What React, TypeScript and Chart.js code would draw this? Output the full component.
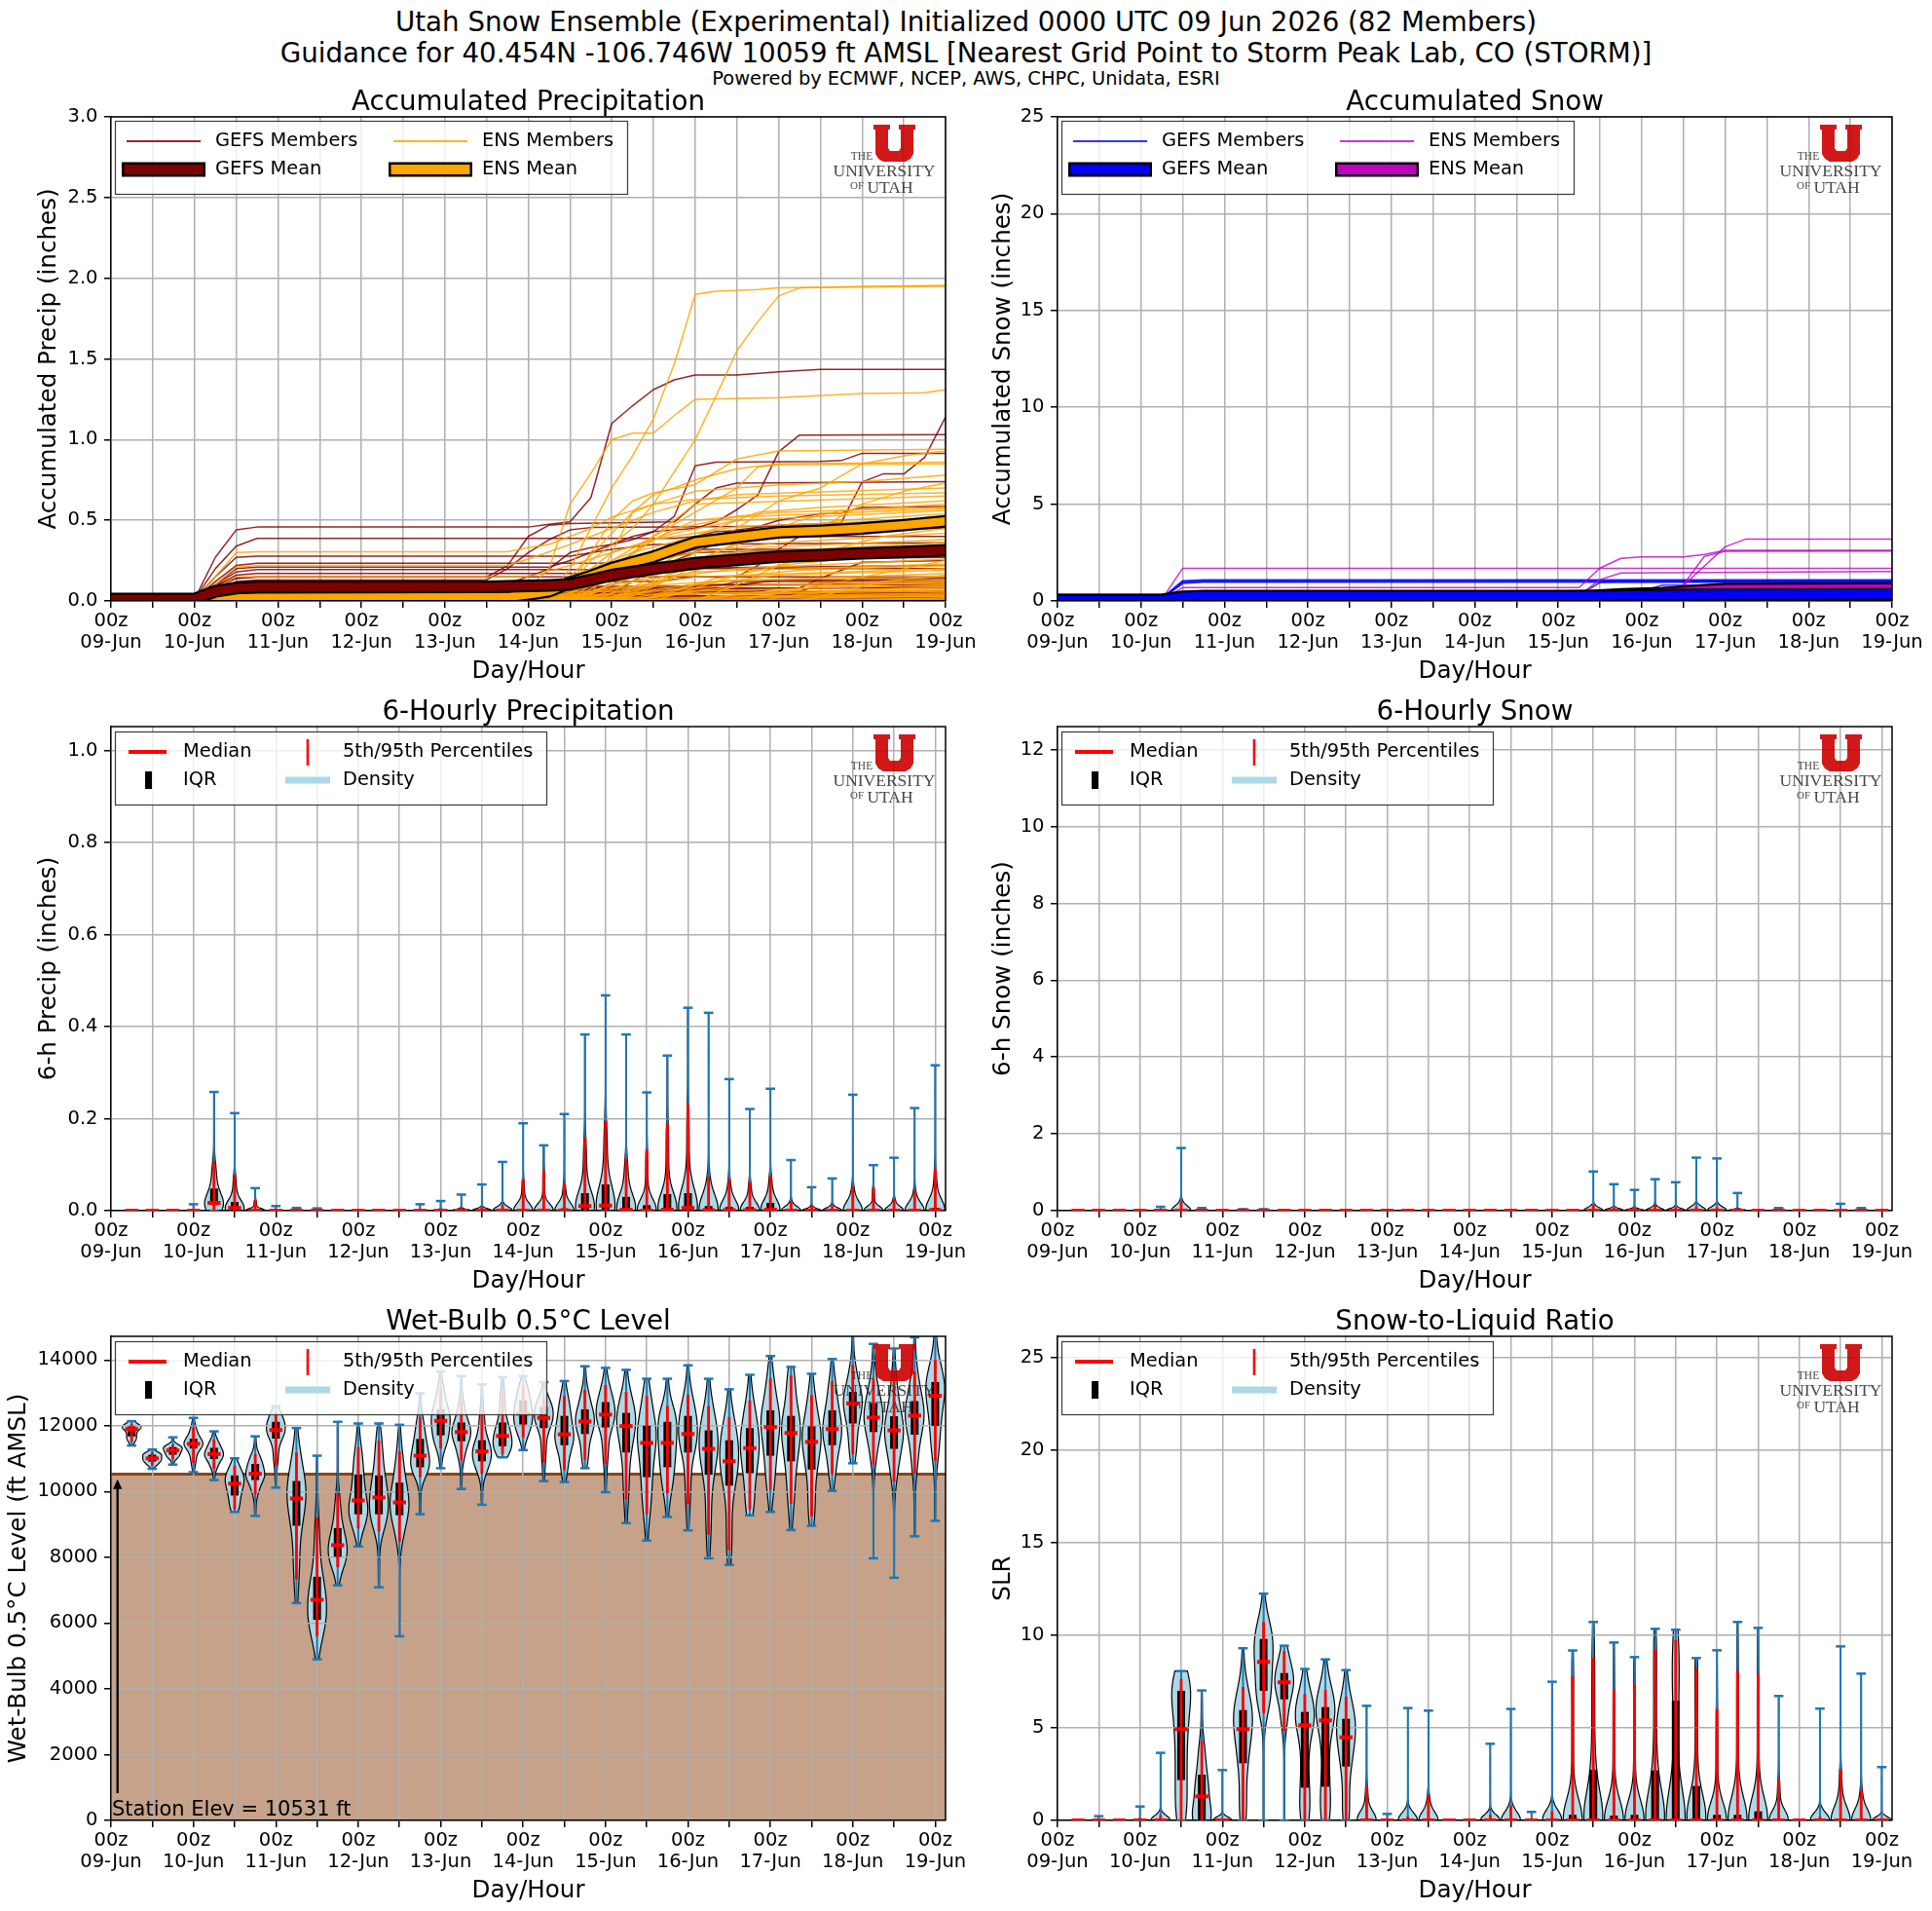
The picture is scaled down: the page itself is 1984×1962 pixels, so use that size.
import React, { useEffect, useRef } from 'react';
import { Chart, registerables } from 'chart.js';

Chart.register(...registerables);

// ---------- fonts & text ----------
const SANS = "'DejaVu Sans', 'Liberation Sans', sans-serif";
const SERIF = "'Liberation Serif', 'DejaVu Serif', serif";
const TICK_PX = 19.5;
const LEGEND_PX = 19.4;
const AXIS_TITLE_PX = 24.6;
const PANEL_TITLE_PX = 27.7;

const SUPTITLE_LINES = [
  'Utah Snow Ensemble (Experimental) Initialized 0000 UTC 09 Jun 2026 (82 Members)',
  'Guidance for 40.454N -106.746W 10059 ft AMSL [Nearest Grid Point to Storm Peak Lab, CO (STORM)]',
];
const CREDIT_LINE = 'Powered by ECMWF, NCEP, AWS, CHPC, Unidata, ESRI';
const X_AXIS_TITLE = 'Day/Hour';

// ---------- time axis ----------
const DAY_LABELS = ['09-Jun', '10-Jun', '11-Jun', '12-Jun', '13-Jun', '14-Jun', '15-Jun', '16-Jun', '17-Jun', '18-Jun', '19-Jun'];
const HOUR_LABEL = '00z';
const FORECAST_END_H = 240;
const VIOLIN_AXIS_END_H = 243;
const VIOLIN_HOURS = [6, 12, 18, 24, 30, 36, 42, 48, 54, 60, 66, 72, 78, 84, 90, 96, 102, 108, 114, 120,
  126, 132, 138, 144, 150, 156, 162, 168, 174, 180, 186, 192, 198, 204, 210, 216, 222, 228, 234, 240];
const VIOLIN_WIDTH_H = 5.5;

// ---------- y tick values ----------
const ACC_PRECIP_TICKS = [0, 0.5, 1.0, 1.5, 2.0, 2.5, 3.0];
const ACC_SNOW_TICKS = [0, 5, 10, 15, 20, 25];
const PRECIP_6H_TICKS = [0, 0.2, 0.4, 0.6, 0.8, 1.0];
const SNOW_6H_TICKS = [0, 2, 4, 6, 8, 10, 12];
const WETBULB_TICKS = [0, 2000, 4000, 6000, 8000, 10000, 12000, 14000];
const SLR_TICKS = [0, 5, 10, 15, 20, 25];

const STATION_ELEV_FT = 10531;
const ELEV_ARROW_FT = [830, 10370];
const ELEV_ARROW_HOUR = 1.9;

// ---------- colours ----------
const GEFS_PRECIP_MEMBER = 'rgba(128,0,0,0.85)';
const ENS_PRECIP_MEMBER = 'rgba(255,165,0,0.85)';
const GEFS_PRECIP_MEAN = '#800000';
const ENS_PRECIP_MEAN = '#ffa500';
const GEFS_SNOW_MEMBER = 'rgba(0,0,255,0.8)';
const ENS_SNOW_MEMBER = 'rgba(191,0,191,0.8)';
const GEFS_SNOW_MEAN = '#0000ff';
const ENS_SNOW_MEAN = '#bf00bf';
const WHISKER_BLUE = '#1f77b4';
const DENSITY_BLUE = '#add8e6';

// ---------- accumulated precipitation members: [hour, inches] ----------
const GEFS_PRECIP_MEMBERS = [
  [[0, 0.01], [24, 0.01], [30, 0.27], [36, 0.44], [42, 0.458], [120, 0.458], [126, 0.475], [132, 0.49], [138, 0.64], [144, 1.1], [150, 1.21], [156, 1.31], [162, 1.37], [168, 1.4], [180, 1.4], [192, 1.42], [204, 1.435], [240, 1.435]],
  [[0, 0.01], [24, 0.01], [30, 0.2], [36, 0.34], [42, 0.388], [162, 0.388], [168, 0.4], [174, 0.43], [186, 0.44], [240, 0.45]],
  [[0, 0.01], [24, 0.01], [30, 0.06], [36, 0.1], [42, 0.11], [114, 0.11], [120, 0.15], [126, 0.2], [132, 0.3], [138, 0.33], [144, 0.35], [150, 0.4], [156, 0.43], [162, 0.44], [168, 0.45], [174, 0.49], [180, 0.566], [186, 0.656], [192, 0.924], [198, 1.028], [240, 1.03]],
  [[0, 0.01], [24, 0.01], [30, 0.1], [36, 0.2], [42, 0.21], [126, 0.21], [132, 0.25], [138, 0.3], [144, 0.35], [150, 0.38], [156, 0.43], [162, 0.525], [168, 0.837], [174, 0.86], [204, 0.865], [210, 0.87], [216, 0.915], [240, 0.915]],
  [[0, 0.01], [24, 0.01], [30, 0.05], [36, 0.07], [120, 0.07], [132, 0.1], [144, 0.2], [156, 0.3], [168, 0.38], [180, 0.44], [192, 0.47], [210, 0.485], [216, 0.737], [222, 0.787], [228, 0.787], [234, 0.89], [240, 1.14]],
  [[0, 0.01], [24, 0.01], [30, 0.03], [36, 0.05], [132, 0.05], [144, 0.1], [156, 0.2], [168, 0.3], [180, 0.42], [192, 0.5], [204, 0.54], [210, 0.545], [216, 0.58], [240, 0.585]],
  [[0, 0.01], [24, 0.01], [30, 0.05], [36, 0.12], [42, 0.13], [108, 0.13], [114, 0.2], [120, 0.3], [126, 0.38], [132, 0.44], [138, 0.455], [240, 0.47]],
  [[0, 0.01], [24, 0.01], [30, 0.1], [36, 0.14], [42, 0.148], [108, 0.148], [114, 0.218], [120, 0.4], [126, 0.47], [132, 0.48], [162, 0.49], [168, 0.6], [174, 0.7], [180, 0.73], [240, 0.74]],
  [[0, 0.01], [24, 0.01], [30, 0.15], [36, 0.27], [42, 0.278], [132, 0.278], [144, 0.32], [156, 0.35], [240, 0.36]],
  [[0, 0.01], [24, 0.01], [30, 0.12], [36, 0.22], [42, 0.234], [150, 0.234], [162, 0.28], [168, 0.3], [240, 0.33]],
  [[0, 0.01], [24, 0.01], [30, 0.1], [36, 0.18], [42, 0.194], [168, 0.194], [180, 0.26], [240, 0.27]],
  [[0, 0.01], [24, 0.01], [30, 0.09], [36, 0.16], [42, 0.17], [138, 0.17], [150, 0.2], [240, 0.22]],
  [[0, 0.01], [24, 0.01], [30, 0.08], [36, 0.14], [42, 0.15], [180, 0.15], [186, 0.22], [192, 0.32], [198, 0.4], [240, 0.4]],
  [[0, 0.01], [24, 0.01], [30, 0.06], [36, 0.11], [42, 0.12], [156, 0.12], [168, 0.15], [240, 0.15]],
  [[0, 0.01], [24, 0.01], [30, 0.05], [36, 0.09], [42, 0.1], [138, 0.1], [144, 0.16], [156, 0.25], [168, 0.32], [240, 0.32]],
  [[0, 0.01], [24, 0.01], [30, 0.05], [36, 0.08], [42, 0.09], [174, 0.09], [180, 0.12], [240, 0.12]],
  [[0, 0.01], [24, 0.01], [30, 0.04], [36, 0.07], [42, 0.08], [198, 0.08], [204, 0.14], [216, 0.24], [240, 0.25]],
  [[0, 0.01], [24, 0.01], [30, 0.04], [36, 0.06], [42, 0.07], [162, 0.07], [174, 0.1], [240, 0.1]],
  [[0, 0.01], [24, 0.01], [30, 0.03], [36, 0.05], [42, 0.06], [186, 0.06], [192, 0.08], [240, 0.08]],
  [[0, 0.01], [24, 0.01], [30, 0.03], [36, 0.045], [42, 0.05], [144, 0.05], [150, 0.12], [156, 0.2], [240, 0.2]],
  [[0, 0.01], [24, 0.01], [30, 0.03], [36, 0.045], [42, 0.05], [240, 0.06]],
  [[0, 0.01], [24, 0.01], [30, 0.02], [36, 0.035], [42, 0.04], [168, 0.04], [180, 0.1], [192, 0.13], [240, 0.13]],
  [[0, 0.01], [24, 0.01], [30, 0.02], [36, 0.035], [42, 0.04], [240, 0.05]],
  [[0, 0.01], [24, 0.01], [30, 0.02], [36, 0.03], [204, 0.03], [210, 0.05], [240, 0.05]],
  [[0, 0.01], [24, 0.01], [36, 0.03], [240, 0.03]],
  [[0, 0.01], [24, 0.01], [36, 0.02], [150, 0.02], [162, 0.07], [240, 0.09]],
  [[0, 0.01], [24, 0.01], [36, 0.02], [240, 0.02]],
  [[0, 0.01], [24, 0.01], [36, 0.02], [192, 0.02], [204, 0.1], [216, 0.14], [240, 0.14]],
  [[0, 0.01], [24, 0.01], [36, 0.01], [180, 0.01], [192, 0.04], [240, 0.04]],
  [[0, 0.01], [24, 0.01], [36, 0.01], [138, 0.01], [150, 0.06], [168, 0.1], [240, 0.11]],
  [[0, 0.01], [240, 0.01]],
];

const ENS_PRECIP_MEMBERS = [
  [[0, 0], [24, 0], [30, 0.01], [120, 0.01], [126, 0.05], [132, 0.2], [138, 0.45], [144, 0.7], [150, 0.9], [156, 1.13], [162, 1.47], [168, 1.9], [174, 1.92], [186, 1.93], [192, 1.94], [240, 1.95]],
  [[0, 0], [24, 0], [30, 0.02], [120, 0.02], [132, 0.1], [138, 0.25], [144, 0.35], [150, 0.45], [156, 0.6], [162, 0.8], [168, 1.0], [174, 1.27], [180, 1.55], [186, 1.73], [192, 1.89], [198, 1.94], [216, 1.95], [240, 1.955]],
  [[0, 0], [24, 0], [36, 0.03], [114, 0.03], [120, 0.08], [126, 0.2], [132, 0.6], [138, 0.79], [144, 1.0], [150, 1.04], [156, 1.04], [162, 1.15], [168, 1.25], [192, 1.26], [216, 1.285], [234, 1.29], [240, 1.31]],
  [[0, 0], [24, 0], [36, 0.02], [126, 0.03], [132, 0.1], [138, 0.3], [144, 0.5], [150, 0.62], [156, 0.67], [168, 0.72], [180, 0.88], [192, 0.93], [240, 0.94]],
  [[0, 0], [36, 0.01], [144, 0.02], [156, 0.15], [168, 0.3], [180, 0.45], [192, 0.62], [204, 0.7], [216, 0.85], [228, 0.9], [240, 0.93]],
  [[0, 0], [24, 0], [36, 0.02], [138, 0.03], [144, 0.3], [150, 0.55], [156, 0.66], [162, 0.7], [168, 0.75], [180, 0.82], [192, 0.85], [240, 0.86]],
  [[0, 0], [132, 0.01], [138, 0.1], [144, 0.25], [156, 0.4], [168, 0.55], [180, 0.7], [186, 0.83], [192, 0.845], [240, 0.85]],
  [[0, 0], [24, 0], [36, 0.05], [120, 0.05], [132, 0.15], [144, 0.42], [150, 0.55], [156, 0.6], [168, 0.68], [192, 0.72], [216, 0.74], [240, 0.78]],
  [[0, 0], [132, 0], [144, 0.05], [156, 0.2], [168, 0.35], [180, 0.4], [204, 0.45], [216, 0.6], [228, 0.68], [240, 0.73]],
  [[0, 0], [24, 0], [30, 0.1], [36, 0.21], [42, 0.22], [114, 0.22], [120, 0.26], [132, 0.35], [144, 0.45], [156, 0.55], [168, 0.62], [180, 0.66], [240, 0.7]],
  [[0, 0], [24, 0], [30, 0.15], [36, 0.3], [42, 0.305], [114, 0.305], [120, 0.33], [126, 0.35], [138, 0.45], [144, 0.52], [156, 0.6], [168, 0.63], [192, 0.65], [240, 0.67]],
  [[0, 0], [126, 0], [138, 0.1], [150, 0.3], [162, 0.5], [168, 0.6], [240, 0.65]],
  [[0, 0], [24, 0], [36, 0.03], [138, 0.04], [150, 0.2], [162, 0.35], [174, 0.45], [186, 0.55], [204, 0.58], [240, 0.62]],
  [[0, 0], [36, 0.01], [126, 0.01], [132, 0.05], [144, 0.2], [156, 0.38], [168, 0.5], [192, 0.55], [240, 0.58]],
  [[0, 0], [24, 0], [30, 0.08], [36, 0.15], [120, 0.15], [132, 0.22], [144, 0.3], [162, 0.42], [180, 0.5], [240, 0.56]],
  [[0, 0], [144, 0], [156, 0.1], [168, 0.25], [180, 0.35], [198, 0.5], [210, 0.56], [240, 0.6]],
  [[0, 0], [132, 0], [144, 0.15], [150, 0.3], [162, 0.45], [180, 0.52], [240, 0.57]],
  [[0, 0], [36, 0.02], [150, 0.03], [162, 0.15], [174, 0.3], [186, 0.42], [210, 0.5], [240, 0.54]],
  [[0, 0], [36, 0.01], [132, 0.02], [138, 0.2], [144, 0.3], [156, 0.38], [180, 0.46], [240, 0.51]],
  [[0, 0], [24, 0], [36, 0.1], [126, 0.1], [138, 0.2], [150, 0.3], [168, 0.4], [192, 0.45], [240, 0.48]],
  [[0, 0], [168, 0], [180, 0.1], [192, 0.22], [204, 0.3], [222, 0.4], [240, 0.45]],
  [[0, 0], [24, 0], [36, 0.08], [132, 0.08], [144, 0.15], [156, 0.25], [168, 0.3], [192, 0.36], [240, 0.42]],
  [[0, 0], [144, 0.01], [156, 0.12], [168, 0.25], [186, 0.33], [240, 0.38]],
  [[0, 0], [36, 0.04], [138, 0.05], [150, 0.15], [162, 0.25], [180, 0.3], [240, 0.36]],
  [[0, 0], [132, 0], [144, 0.1], [156, 0.2], [174, 0.28], [204, 0.32], [240, 0.34]],
  [[0, 0], [36, 0.05], [150, 0.06], [162, 0.15], [174, 0.22], [198, 0.28], [240, 0.32]],
  [[0, 0], [156, 0], [168, 0.08], [180, 0.16], [192, 0.22], [216, 0.27], [240, 0.3]],
  [[0, 0], [36, 0.01], [138, 0.02], [150, 0.12], [162, 0.2], [186, 0.25], [240, 0.28]],
  [[0, 0], [144, 0], [150, 0.08], [162, 0.15], [180, 0.2], [240, 0.26]],
  [[0, 0], [180, 0], [192, 0.05], [210, 0.12], [228, 0.2], [240, 0.25]],
  [[0, 0], [36, 0.02], [132, 0.02], [144, 0.1], [168, 0.18], [240, 0.23]],
  [[0, 0], [150, 0], [162, 0.06], [174, 0.14], [198, 0.19], [240, 0.22]],
  [[0, 0], [138, 0], [150, 0.09], [168, 0.15], [240, 0.2]],
  [[0, 0], [36, 0.03], [156, 0.04], [168, 0.1], [192, 0.16], [240, 0.19]],
  [[0, 0], [144, 0], [156, 0.07], [174, 0.12], [240, 0.17]],
  [[0, 0], [198, 0], [210, 0.06], [222, 0.12], [240, 0.16]],
  [[0, 0], [36, 0.01], [132, 0.01], [144, 0.08], [180, 0.13], [240, 0.15]],
  [[0, 0], [150, 0], [162, 0.05], [186, 0.1], [240, 0.13]],
  [[0, 0], [168, 0], [180, 0.04], [204, 0.09], [240, 0.12]],
  [[0, 0], [138, 0], [150, 0.05], [174, 0.09], [240, 0.11]],
  [[0, 0], [36, 0.02], [156, 0.02], [168, 0.06], [240, 0.1]],
  [[0, 0], [186, 0], [198, 0.04], [216, 0.07], [240, 0.09]],
  [[0, 0], [144, 0], [156, 0.04], [240, 0.08]],
  [[0, 0], [162, 0], [174, 0.03], [210, 0.06], [240, 0.07]],
  [[0, 0], [36, 0.01], [150, 0.01], [162, 0.04], [240, 0.06]],
  [[0, 0], [174, 0], [186, 0.03], [240, 0.05]],
  [[0, 0], [150, 0], [162, 0.02], [240, 0.04]],
  [[0, 0], [192, 0], [204, 0.02], [240, 0.03]],
  [[0, 0], [36, 0.01], [168, 0.01], [180, 0.02], [240, 0.03]],
  [[0, 0], [210, 0], [222, 0.01], [240, 0.02]],
  [[0, 0], [240, 0.01]],
];

const GEFS_PRECIP_MEAN_LINE = [[0, 0.012], [24, 0.012], [30, 0.06], [36, 0.08], [42, 0.087], [96, 0.087], [108, 0.088], [120, 0.093], [126, 0.097], [132, 0.103], [138, 0.13], [144, 0.16], [150, 0.18], [156, 0.2], [162, 0.215], [168, 0.234], [180, 0.255], [192, 0.274], [204, 0.283], [216, 0.295], [228, 0.303], [240, 0.314]];
const ENS_PRECIP_MEAN_LINE = [[0, 0.004], [24, 0.004], [30, 0.01], [36, 0.016], [42, 0.02], [108, 0.022], [114, 0.025], [120, 0.04], [126, 0.06], [132, 0.113], [138, 0.155], [144, 0.203], [150, 0.24], [156, 0.274], [162, 0.32], [168, 0.364], [180, 0.395], [192, 0.425], [204, 0.435], [216, 0.45], [228, 0.47], [240, 0.493]];

// ---------- accumulated snow members: [hour, inches] ----------
const GEFS_SNOW_MEMBERS = [
  [[0, 0.15], [30, 0.15], [36, 1.05], [42, 1.1], [240, 1.1]],
  [[0, 0.15], [30, 0.15], [36, 1.0], [42, 1.05], [240, 1.06]],
  [[0, 0.12], [30, 0.12], [36, 0.95], [42, 1.0], [240, 1.02]],
  [[0, 0.12], [30, 0.12], [36, 0.9], [42, 0.97], [156, 0.97], [162, 1.0], [240, 1.0]],
  [[0, 0.1], [30, 0.1], [36, 0.2], [162, 0.2], [168, 0.5], [174, 0.82], [240, 0.82]],
  [[0, 0.1], [30, 0.1], [36, 0.15], [174, 0.15], [180, 0.6], [186, 0.72], [240, 0.72]],
  [[0, 0.1], [30, 0.1], [36, 0.12], [144, 0.12], [150, 0.3], [156, 0.95], [240, 0.98]],
  [[0, 0.1], [30, 0.1], [36, 0.3], [240, 0.3]],
  [[0, 0.08], [30, 0.08], [36, 0.25], [168, 0.25], [180, 0.4], [240, 0.4]],
  [[0, 0.08], [30, 0.08], [36, 0.2], [240, 0.2]],
  [[0, 0.06], [30, 0.06], [36, 0.18], [150, 0.18], [162, 0.35], [240, 0.36]],
  [[0, 0.06], [30, 0.06], [36, 0.15], [240, 0.15]],
  [[0, 0.05], [30, 0.05], [36, 0.12], [186, 0.12], [198, 0.3], [240, 0.3]],
  [[0, 0.05], [30, 0.05], [36, 0.1], [240, 0.1]],
  [[0, 0.04], [30, 0.04], [36, 0.08], [156, 0.08], [168, 0.25], [240, 0.26]],
  [[0, 0.04], [30, 0.04], [36, 0.06], [240, 0.06]],
  [[0, 0.03], [30, 0.03], [36, 0.05], [174, 0.05], [186, 0.18], [240, 0.2]],
  [[0, 0.03], [36, 0.05], [240, 0.05]],
  [[0, 0.03], [36, 0.04], [150, 0.04], [162, 0.12], [240, 0.14]],
  [[0, 0.02], [36, 0.04], [240, 0.04]],
  [[0, 0.02], [36, 0.03], [192, 0.03], [204, 0.1], [240, 0.1]],
  [[0, 0.02], [36, 0.03], [240, 0.03]],
  [[0, 0.02], [36, 0.02], [168, 0.02], [180, 0.08], [240, 0.08]],
  [[0, 0.01], [36, 0.02], [240, 0.02]],
  [[0, 0.01], [36, 0.02], [240, 0.02]],
  [[0, 0.01], [36, 0.01], [156, 0.01], [168, 0.06], [240, 0.06]],
  [[0, 0.01], [240, 0.01]],
  [[0, 0.01], [240, 0.01]],
  [[0, 0], [36, 0.01], [240, 0.01]],
  [[0, 0], [240, 0]],
  [[0, 0], [240, 0]],
];

const ENS_SNOW_MEMBERS = [
  [[0, 0.08], [30, 0.08], [36, 1.69], [240, 1.69]],
  [[0, 0.08], [30, 0.08], [36, 0.69], [150, 0.69], [156, 1.7], [162, 2.2], [168, 2.28], [180, 2.28], [186, 2.4], [192, 2.62], [240, 2.62]],
  [[0, 0.05], [144, 0.05], [150, 0.3], [156, 1.1], [162, 1.45], [240, 1.52]],
  [[0, 0.05], [174, 0.05], [180, 0.8], [186, 1.8], [192, 2.8], [198, 3.2], [240, 3.2]],
  [[0, 0.05], [168, 0.05], [174, 0.5], [180, 0.85], [186, 2.3], [192, 2.56], [240, 2.58]],
  [[0, 0.05], [30, 0.05], [36, 0.35], [240, 0.35]],
  [[0, 0.05], [156, 0.05], [168, 0.4], [180, 0.55], [240, 0.6]],
  [[0, 0.04], [30, 0.04], [36, 0.25], [174, 0.25], [186, 0.45], [240, 0.46]],
  [[0, 0.04], [150, 0.04], [162, 0.3], [240, 0.32]],
  [[0, 0.04], [36, 0.15], [240, 0.15]],
  [[0, 0.04], [36, 0.12], [156, 0.12], [168, 0.3], [240, 0.3]],
  [[0, 0.03], [36, 0.1], [240, 0.1]],
  [[0, 0.03], [36, 0.08], [174, 0.08], [186, 0.25], [240, 0.28]],
  [[0, 0.03], [36, 0.06], [240, 0.06]],
  [[0, 0.03], [150, 0.03], [162, 0.2], [240, 0.22]],
  [[0, 0.02], [36, 0.05], [240, 0.05]],
  [[0, 0.02], [168, 0.02], [180, 0.18], [240, 0.2]],
  [[0, 0.02], [36, 0.04], [240, 0.04]],
  [[0, 0.02], [156, 0.02], [168, 0.12], [240, 0.14]],
  [[0, 0.02], [36, 0.04], [186, 0.04], [198, 0.16], [240, 0.18]],
  [[0, 0.02], [36, 0.03], [240, 0.03]],
  [[0, 0.02], [162, 0.02], [174, 0.1], [240, 0.12]],
  [[0, 0.01], [36, 0.03], [240, 0.03]],
  [[0, 0.01], [150, 0.01], [162, 0.08], [240, 0.1]],
  [[0, 0.01], [36, 0.02], [240, 0.02]],
  [[0, 0.01], [180, 0.01], [192, 0.09], [240, 0.1]],
  [[0, 0.01], [36, 0.02], [240, 0.02]],
  [[0, 0.01], [168, 0.01], [180, 0.06], [240, 0.07]],
  [[0, 0.01], [36, 0.02], [240, 0.02]],
  [[0, 0.01], [156, 0.01], [168, 0.05], [240, 0.06]],
  [[0, 0.01], [240, 0.01]],
  [[0, 0.01], [186, 0.01], [198, 0.05], [240, 0.05]],
  [[0, 0.01], [240, 0.01]],
  [[0, 0.01], [162, 0.01], [174, 0.04], [240, 0.04]],
  [[0, 0.01], [240, 0.01]],
  [[0, 0], [36, 0.01], [240, 0.01]],
  [[0, 0], [174, 0], [186, 0.03], [240, 0.03]],
  [[0, 0], [36, 0.01], [240, 0.01]],
  [[0, 0], [150, 0], [162, 0.02], [240, 0.03]],
  [[0, 0], [240, 0.01]],
  [[0, 0], [192, 0], [204, 0.02], [240, 0.02]],
  [[0, 0], [240, 0.01]],
  [[0, 0], [168, 0], [180, 0.02], [240, 0.02]],
  [[0, 0], [240, 0]],
  [[0, 0], [240, 0]],
  [[0, 0], [156, 0], [168, 0.01], [240, 0.01]],
  [[0, 0], [240, 0]],
  [[0, 0], [240, 0]],
  [[0, 0], [240, 0]],
  [[0, 0], [240, 0]],
  [[0, 0], [240, 0]],
];

const GEFS_SNOW_MEAN_LINE = [[0, 0.05], [30, 0.05], [36, 0.22], [42, 0.25], [144, 0.25], [156, 0.27], [168, 0.29], [180, 0.31], [192, 0.33], [240, 0.34]];
const ENS_SNOW_MEAN_LINE = [[0, 0.04], [30, 0.04], [36, 0.12], [42, 0.13], [144, 0.13], [150, 0.17], [156, 0.28], [162, 0.34], [174, 0.4], [180, 0.48], [186, 0.56], [192, 0.62], [240, 0.64]];

// ---------- 6-hourly distributions: [min, p5, q1, median, q3, p95, max] ----------
const PRECIP_6H_STATS = [
  [0, 0, 0, 0, 0, 0, 0], [0, 0, 0, 0, 0, 0, 0], [0, 0, 0, 0, 0, 0, 0], [0, 0, 0, 0, 0, 0, 0.014],
  [0, 0, 0.012, 0.017, 0.048, 0.108, 0.258], [0, 0, 0, 0.006, 0.019, 0.078, 0.212], [0, 0, 0, 0, 0.002, 0.023, 0.049], [0, 0, 0, 0, 0, 0.002, 0.01],
  [0, 0, 0, 0, 0, 0.001, 0.006], [0, 0, 0, 0, 0, 0.001, 0.005], [0, 0, 0, 0, 0, 0, 0], [0, 0, 0, 0, 0, 0, 0],
  [0, 0, 0, 0, 0, 0, 0], [0, 0, 0, 0, 0, 0, 0], [0, 0, 0, 0, 0, 0.002, 0.014], [0, 0, 0, 0, 0, 0.004, 0.021],
  [0, 0, 0, 0, 0, 0.006, 0.035], [0, 0, 0, 0, 0, 0.008, 0.057], [0, 0, 0, 0, 0.001, 0.012, 0.106], [0, 0, 0, 0, 0.004, 0.068, 0.19],
  [0, 0, 0, 0, 0.004, 0.088, 0.142], [0, 0, 0, 0, 0.005, 0.06, 0.21], [0, 0, 0, 0.01, 0.038, 0.159, 0.383], [0, 0, 0.001, 0.011, 0.057, 0.195, 0.468],
  [0, 0, 0, 0.002, 0.03, 0.113, 0.383], [0, 0, 0, 0, 0.012, 0.133, 0.257], [0, 0, 0, 0.002, 0.036, 0.191, 0.337], [0, 0, 0, 0.006, 0.038, 0.231, 0.441],
  [0, 0, 0, 0.001, 0.01, 0.074, 0.43], [0, 0, 0, 0.001, 0.008, 0.068, 0.286], [0, 0, 0, 0.001, 0.008, 0.063, 0.221], [0, 0, 0, 0.002, 0.017, 0.076, 0.265],
  [0, 0, 0, 0, 0.003, 0.02, 0.11], [0, 0, 0, 0, 0.001, 0.012, 0.051], [0, 0, 0, 0, 0.002, 0.012, 0.07], [0, 0, 0, 0, 0.004, 0.053, 0.252],
  [0, 0, 0, 0, 0.003, 0.05, 0.099], [0, 0, 0, 0, 0.002, 0.026, 0.115], [0, 0, 0, 0, 0.003, 0.044, 0.223], [0, 0, 0, 0.001, 0.006, 0.091, 0.316],
];

const SNOW_6H_STATS = [
  [0, 0, 0, 0, 0, 0, 0], [0, 0, 0, 0, 0, 0, 0], [0, 0, 0, 0, 0, 0, 0], [0, 0, 0, 0, 0, 0, 0],
  [0, 0, 0, 0, 0, 0.01, 0.1], [0, 0, 0, 0, 0.02, 0.24, 1.63], [0, 0, 0, 0, 0, 0.01, 0.07], [0, 0, 0, 0, 0, 0, 0],
  [0, 0, 0, 0, 0, 0, 0.04], [0, 0, 0, 0, 0, 0, 0.04], [0, 0, 0, 0, 0, 0, 0], [0, 0, 0, 0, 0, 0, 0],
  [0, 0, 0, 0, 0, 0, 0], [0, 0, 0, 0, 0, 0, 0], [0, 0, 0, 0, 0, 0, 0], [0, 0, 0, 0, 0, 0, 0],
  [0, 0, 0, 0, 0, 0, 0], [0, 0, 0, 0, 0, 0, 0], [0, 0, 0, 0, 0, 0, 0], [0, 0, 0, 0, 0, 0, 0],
  [0, 0, 0, 0, 0, 0, 0], [0, 0, 0, 0, 0, 0, 0], [0, 0, 0, 0, 0, 0, 0], [0, 0, 0, 0, 0, 0, 0],
  [0, 0, 0, 0, 0, 0, 0], [0, 0, 0, 0, 0.01, 0.15, 1.02], [0, 0, 0, 0, 0.003, 0.08, 0.69], [0, 0, 0, 0, 0.003, 0.07, 0.54],
  [0, 0, 0, 0, 0.005, 0.15, 0.82], [0, 0, 0, 0, 0.004, 0.08, 0.74], [0, 0, 0, 0, 0.01, 0.11, 1.38], [0, 0, 0, 0, 0.01, 0.09, 1.36],
  [0, 0, 0, 0, 0, 0.02, 0.46], [0, 0, 0, 0, 0, 0, 0], [0, 0, 0, 0, 0, 0, 0.07], [0, 0, 0, 0, 0, 0, 0],
  [0, 0, 0, 0, 0, 0, 0], [0, 0, 0, 0, 0, 0.01, 0.18], [0, 0, 0, 0, 0, 0, 0.07], [0, 0, 0, 0, 0, 0, 0],
];

const WETBULB_STATS = [
  [11400, 11520, 11680, 11900, 11980, 12060, 12140], [10690, 10790, 10910, 11010, 11120, 11190, 11280],
  [10820, 10990, 11120, 11250, 11350, 11430, 11650], [10590, 10860, 11310, 11450, 11610, 11950, 12240],
  [10350, 10690, 10990, 11140, 11330, 11580, 11830], [9380, 9460, 9880, 10240, 10490, 10790, 11010],
  [9260, 9900, 10350, 10540, 10840, 11140, 11680], [10120, 10790, 11610, 11870, 12120, 12420, 12600],
  [6610, 7330, 8960, 9790, 10320, 11190, 11930], [4900, 5600, 6100, 6710, 7410, 9210, 11090],
  [7150, 7700, 8020, 8370, 8890, 9950, 12120], [8330, 8880, 9310, 9730, 10520, 11350, 12070],
  [7090, 8790, 9310, 9820, 10490, 11550, 12070], [5600, 8470, 9280, 9670, 10270, 11220, 12030],
  [9310, 10440, 10740, 11090, 11600, 12270, 12990], [10710, 11310, 11710, 12150, 12500, 13110, 13650],
  [10080, 10940, 11530, 11810, 12100, 12720, 13510], [9600, 10540, 10920, 11220, 11560, 12470, 13260],
  [11040, 11140, 11380, 11690, 12100, 13010, 13480], [11260, 11650, 12040, 12370, 12770, 13210, 13510],
  [10320, 10890, 11930, 12240, 12570, 12820, 13330], [10290, 10660, 11410, 11740, 12300, 12910, 13360],
  [10710, 10960, 11750, 12130, 12500, 13090, 13810], [9980, 10840, 11950, 12340, 12720, 13240, 13760],
  [9040, 9770, 11190, 11990, 12390, 13030, 13700], [8510, 9310, 10440, 11480, 12000, 12910, 13430],
  [9230, 9950, 10740, 11480, 12120, 12600, 13430], [8820, 9610, 11190, 11750, 12300, 12940, 13840],
  [7970, 8690, 10510, 11300, 11860, 12600, 13430], [7770, 8220, 10180, 10920, 11560, 12270, 13110],
  [9280, 9460, 10560, 11320, 11930, 12770, 13550], [9380, 10050, 11090, 11960, 12470, 13440, 14120],
  [8830, 9630, 10920, 11780, 12300, 13530, 13790], [8960, 9240, 10670, 11510, 11980, 12930, 13580],
  [10020, 10520, 11410, 11900, 12470, 13360, 14030], [10860, 11140, 12070, 12680, 13030, 13850, 15000],
  [7970, 10820, 11810, 12250, 12690, 13440, 14490], [7380, 10300, 11300, 11860, 12290, 13410, 14350],
  [8640, 10540, 11730, 12310, 12750, 13650, 14690], [9110, 10940, 12000, 12910, 13330, 14000, 15000],
];

const SLR_STATS = [
  [0, 0, 0, 0, 0, 0, 0], [0, 0, 0, 0, 0, 0, 0.23], [0, 0, 0, 0, 0, 0, 0], [0, 0, 0, 0, 0, 0, 0.75],
  [0, 0, 0, 0, 0, 0.28, 3.65], [0, 0, 2.18, 4.93, 7.0, 7.63, 8.07], [0, 0, 0, 1.3, 2.47, 4.3, 7.02], [0, 0, 0, 0, 0, 0.1, 2.72],
  [0, 0, 3.09, 4.93, 5.96, 7.21, 9.3], [0, 5.8, 7.0, 8.56, 9.8, 10.72, 12.25], [0, 4.84, 6.54, 7.46, 7.96, 9.14, 9.44], [0, 0, 1.77, 5.14, 5.86, 6.82, 8.18],
  [0, 0, 1.82, 5.4, 6.12, 7.04, 8.7], [0, 0, 2.91, 4.49, 5.49, 6.68, 8.12], [0, 0, 0, 0, 0.1, 1.89, 6.19], [0, 0, 0, 0, 0, 0, 0.35],
  [0, 0, 0, 0, 0.05, 0.2, 6.07], [0, 0, 0, 0, 0.1, 1.37, 5.93], [0, 0, 0, 0, 0, 0, 0], [0, 0, 0, 0, 0, 0, 0],
  [0, 0, 0, 0, 0.05, 0.3, 4.14], [0, 0, 0, 0, 0.05, 0.8, 6.02], [0, 0, 0, 0, 0, 0, 0.46], [0, 0, 0, 0, 0.1, 0.5, 7.49],
  [0, 0, 0, 0, 0.3, 7.77, 9.18], [0, 0, 0, 0, 2.74, 8.79, 10.72], [0, 0, 0, 0, 0.26, 7.04, 9.61], [0, 0, 0, 0, 0.3, 7.39, 8.82],
  [0, 0, 0, 0, 2.7, 9.23, 10.35], [0, 0, 0, 0, 6.46, 9.75, 10.3], [0, 0, 0, 0, 1.86, 8.21, 8.77], [0, 0, 0, 0, 0.3, 6.02, 9.19],
  [0, 0, 0, 0, 0.3, 8.09, 10.72], [0, 0, 0, 0, 0.49, 7.95, 10.4], [0, 0, 0, 0, 0.1, 2.26, 6.72], [0, 0, 0, 0, 0, 0, 0],
  [0, 0, 0, 0, 0.05, 0.2, 6.04], [0, 0, 0, 0, 0.1, 2.79, 9.4], [0, 0, 0, 0, 0.1, 1.63, 7.93], [0, 0, 0, 0, 0, 0.1, 2.88],
];

// ---------- page layout ----------
const CANVAS_H = 624;
const PLOT_TOP = 34;
const PLOT_BOTTOM = 531;
const COLUMNS = [
  { left: 0, width: 1012, axisWidth: 114, padRight: 41 },
  { left: 1000, width: 984, axisWidth: 86, padRight: 41 },
];
const ROW_TOPS = [86, 712, 1338];

const PANELS = [
  { col: 0, row: 0, title: 'Accumulated Precipitation', yLabel: 'Accumulated Precip (inches)', yMax: 3, yTicks: ACC_PRECIP_TICKS, yDigits: 1, yTitlePad: 35.7, kind: 'members', gefs: GEFS_PRECIP_MEMBERS, ens: ENS_PRECIP_MEMBERS, gefsMean: GEFS_PRECIP_MEAN_LINE, ensMean: ENS_PRECIP_MEAN_LINE, colors: [GEFS_PRECIP_MEMBER, ENS_PRECIP_MEMBER, GEFS_PRECIP_MEAN, ENS_PRECIP_MEAN] },
  { col: 1, row: 0, title: 'Accumulated Snow', yLabel: 'Accumulated Snow (inches)', yMax: 25, yTicks: ACC_SNOW_TICKS, yDigits: 0, yTitlePad: 16.2, kind: 'members', gefs: GEFS_SNOW_MEMBERS, ens: ENS_SNOW_MEMBERS, gefsMean: GEFS_SNOW_MEAN_LINE, ensMean: ENS_SNOW_MEAN_LINE, colors: [GEFS_SNOW_MEMBER, ENS_SNOW_MEMBER, GEFS_SNOW_MEAN, ENS_SNOW_MEAN] },
  { col: 0, row: 1, title: '6-Hourly Precipitation', yLabel: '6-h Precip (inches)', yMax: 1.052, yTicks: PRECIP_6H_TICKS, yDigits: 1, yTitlePad: 35.7, kind: 'violin', stats: PRECIP_6H_STATS },
  { col: 1, row: 1, title: '6-Hourly Snow', yLabel: '6-h Snow (inches)', yMax: 12.6, yTicks: SNOW_6H_TICKS, yDigits: 0, yTitlePad: 16.2, kind: 'violin', stats: SNOW_6H_STATS },
  { col: 0, row: 2, title: 'Wet-Bulb 0.5°C Level', yLabel: 'Wet-Bulb 0.5°C Level (ft AMSL)', yMax: 14720, yTicks: WETBULB_TICKS, yDigits: 0, yTitlePad: 5.2, kind: 'violin', stats: WETBULB_STATS, station: true },
  { col: 1, row: 2, title: 'Snow-to-Liquid Ratio', yLabel: 'SLR', yMax: 26.15, yTicks: SLR_TICKS, yDigits: 0, yTitlePad: 16.2, kind: 'violin', stats: SLR_STATS },
];

// ---------- helpers ----------
const toPoints = (knots: number[][]) => knots.map(([x, y]) => ({ x, y }));

function lineDataset(knots: number[][], color: string, width: number) {
  return {
    data: toPoints(knots),
    borderColor: color,
    backgroundColor: color,
    borderWidth: width,
    pointRadius: 0,
    pointHoverRadius: 0,
    fill: false,
    tension: 0,
    clip: 0,
    borderJoinStyle: 'round',
  };
}

// Gaussian KDE outline of a violin, built from the stored quantiles (Scott bandwidth)
function violinProfile(st: number[]) {
  const lo = st[0], hi = st[6];
  if (!(hi > lo)) return null;
  const probs = [0, 0.05, 0.25, 0.5, 0.75, 0.95, 1];
  const n = 82;
  const samples: number[] = [];
  for (let i = 0; i < n; i++) {
    const p = i / (n - 1);
    let j = 0;
    while (j < 5 && p > probs[j + 1]) j++;
    const t = (p - probs[j]) / (probs[j + 1] - probs[j]);
    samples.push(st[j] + t * (st[j + 1] - st[j]));
  }
  const mean = samples.reduce((s, v) => s + v, 0) / n;
  const sd = Math.sqrt(samples.reduce((s, v) => s + (v - mean) * (v - mean), 0) / (n - 1));
  if (!(sd > 0)) return null;
  const bw = sd * Math.pow(n, -0.2);
  const ys: number[] = [];
  const ds: number[] = [];
  const pts = 100;
  for (let k = 0; k < pts; k++) {
    const y = lo + ((hi - lo) * k) / (pts - 1);
    let d = 0;
    for (const s of samples) {
      const z = (y - s) / bw;
      d += Math.exp(-0.5 * z * z);
    }
    ys.push(y);
    ds.push(d);
  }
  const dmax = Math.max(...ds);
  return { ys, ws: ds.map((d) => d / dmax) };
}

function clipToArea(ctx: CanvasRenderingContext2D, a: any) {
  ctx.beginPath();
  ctx.rect(a.left, a.top, a.right - a.left, a.bottom - a.top);
  ctx.clip();
}

function drawViolinBodies(chart: any, stats: number[][]) {
  const { ctx, chartArea: a, scales } = chart;
  const x = scales.x, y = scales.y;
  ctx.save();
  clipToArea(ctx, a);
  stats.forEach((st, i) => {
    const prof = violinProfile(st);
    if (!prof) return;
    const cx = x.getPixelForValue(VIOLIN_HOURS[i]);
    const hw = x.getPixelForValue(VIOLIN_HOURS[i] + VIOLIN_WIDTH_H / 2) - cx;
    ctx.beginPath();
    prof.ys.forEach((v, k) => {
      const px = cx - prof.ws[k] * hw, py = y.getPixelForValue(v);
      if (k === 0) ctx.moveTo(px, py); else ctx.lineTo(px, py);
    });
    for (let k = prof.ys.length - 1; k >= 0; k--) {
      ctx.lineTo(cx + prof.ws[k] * hw, y.getPixelForValue(prof.ys[k]));
    }
    ctx.closePath();
    ctx.fillStyle = DENSITY_BLUE;
    ctx.fill();
    ctx.strokeStyle = '#000';
    ctx.lineWidth = 1.2;
    ctx.stroke();
  });
  ctx.restore();
}

function drawViolinMarks(chart: any, stats: number[][]) {
  const { ctx, chartArea: a, scales } = chart;
  const x = scales.x, y = scales.y;
  ctx.save();
  clipToArea(ctx, a);
  const seg = (x0: number, y0: number, x1: number, y1: number) => {
    ctx.beginPath(); ctx.moveTo(x0, y0); ctx.lineTo(x1, y1); ctx.stroke();
  };
  stats.forEach((st, i) => {
    const [mn, p5, q1, med, q3, p95, mx] = st;
    const cx = x.getPixelForValue(VIOLIN_HOURS[i]);
    const cap = x.getPixelForValue(VIOLIN_HOURS[i] + VIOLIN_WIDTH_H * 0.25) - cx;
    const yMin = y.getPixelForValue(mn), yMax = y.getPixelForValue(mx);
    ctx.lineCap = 'butt';
    ctx.strokeStyle = WHISKER_BLUE;
    ctx.lineWidth = 2;
    seg(cx, yMin, cx, yMax);
    ctx.lineWidth = 2.5;
    seg(cx - cap, yMin, cx + cap, yMin);
    seg(cx - cap, yMax, cx + cap, yMax);
    if (q3 > q1) {
      ctx.fillStyle = '#000';
      const yq3 = y.getPixelForValue(q3), yq1 = y.getPixelForValue(q1);
      ctx.fillRect(cx - 4, yq3, 8, yq1 - yq3);
    }
    if (p95 > p5) {
      ctx.strokeStyle = '#ff0000';
      ctx.lineWidth = 2.8;
      seg(cx, y.getPixelForValue(p5), cx, y.getPixelForValue(p95));
    }
    ctx.strokeStyle = '#ff0000';
    ctx.lineWidth = 4;
    const ym = y.getPixelForValue(med);
    seg(cx - 6.7, ym, cx + 6.7, ym);
  });
  ctx.restore();
}

function drawStationNote(chart: any) {
  const { ctx, chartArea: a, scales } = chart;
  const x = scales.x, y = scales.y;
  const ax = x.getPixelForValue(ELEV_ARROW_HOUR);
  const y0 = y.getPixelForValue(ELEV_ARROW_FT[0]);
  const y1 = y.getPixelForValue(ELEV_ARROW_FT[1]);
  ctx.save();
  ctx.strokeStyle = '#000';
  ctx.fillStyle = '#000';
  ctx.lineWidth = 2.3;
  ctx.beginPath(); ctx.moveTo(ax, y0); ctx.lineTo(ax, y1 + 8); ctx.stroke();
  ctx.beginPath(); ctx.moveTo(ax, y1); ctx.lineTo(ax - 4.6, y1 + 10); ctx.lineTo(ax + 4.6, y1 + 10); ctx.closePath(); ctx.fill();
  ctx.font = `21px ${SANS}`;
  ctx.textAlign = 'left';
  ctx.textBaseline = 'alphabetic';
  ctx.fillText(`Station Elev = ${STATION_ELEV_FT} ft`, a.left + 1, a.bottom - 5);
  ctx.restore();
}

function legendBox(ctx: CanvasRenderingContext2D, x: number, y: number, w: number, h: number) {
  ctx.fillStyle = 'rgba(255,255,255,0.8)';
  ctx.fillRect(x, y, w, h);
  ctx.strokeStyle = '#3a3a3a';
  ctx.lineWidth = 1.2;
  ctx.strokeRect(x + 0.5, y + 0.5, w, h);
}

function drawMemberLegend(ctx: CanvasRenderingContext2D, a: any, colors: string[]) {
  const [gm, em, gmean, emean] = colors;
  legendBox(ctx, a.left + 4, a.top + 4, 526, 75);
  const r1 = a.top + 25, r2 = a.top + 54;
  ctx.lineCap = 'butt';
  const member = (x0: number, c: string) => {
    ctx.strokeStyle = c; ctx.lineWidth = 2;
    ctx.beginPath(); ctx.moveTo(a.left + x0, r1); ctx.lineTo(a.left + x0 + 76, r1); ctx.stroke();
  };
  const meanSwatch = (x0: number, c: string) => {
    ctx.fillStyle = '#000';
    ctx.fillRect(a.left + x0, r2 - 7.5, 86, 15);
    ctx.fillStyle = c;
    ctx.fillRect(a.left + x0 + 2.5, r2 - 5, 81, 10);
  };
  member(16, gm);
  member(290, em);
  meanSwatch(11, gmean);
  meanSwatch(285, emean);
  ctx.fillStyle = '#000';
  ctx.font = `${LEGEND_PX}px ${SANS}`;
  ctx.textAlign = 'left';
  ctx.textBaseline = 'middle';
  ctx.fillText('GEFS Members', a.left + 107, r1);
  ctx.fillText('ENS Members', a.left + 381, r1);
  ctx.fillText('GEFS Mean', a.left + 107, r2);
  ctx.fillText('ENS Mean', a.left + 381, r2);
}

function drawViolinLegend(ctx: CanvasRenderingContext2D, a: any) {
  legendBox(ctx, a.left + 4, a.top + 5, 443, 75);
  const r1 = a.top + 26, r2 = a.top + 55;
  ctx.lineCap = 'butt';
  ctx.strokeStyle = '#ff0000'; ctx.lineWidth = 4;
  ctx.beginPath(); ctx.moveTo(a.left + 18, r1); ctx.lineTo(a.left + 57, r1); ctx.stroke();
  ctx.lineWidth = 2.6;
  ctx.beginPath(); ctx.moveTo(a.left + 202, a.top + 13); ctx.lineTo(a.left + 202, a.top + 40); ctx.stroke();
  ctx.fillStyle = '#000';
  ctx.fillRect(a.left + 35, r2 - 9, 7, 18);
  ctx.strokeStyle = DENSITY_BLUE; ctx.lineWidth = 7;
  ctx.beginPath(); ctx.moveTo(a.left + 179, r2); ctx.lineTo(a.left + 225, r2); ctx.stroke();
  ctx.fillStyle = '#000';
  ctx.font = `${LEGEND_PX}px ${SANS}`;
  ctx.textAlign = 'left';
  ctx.textBaseline = 'middle';
  ctx.fillText('Median', a.left + 74, r1);
  ctx.fillText('5th/95th Percentiles', a.left + 238, r1);
  ctx.fillText('IQR', a.left + 74, r2);
  ctx.fillText('Density', a.left + 238, r2);
}

// Block-U wordmark in the upper right of each panel
const U_OUTLINE = [[0, 0], [17, 0], [17, 5], [15, 5], [15, 24], [17, 27], [26, 27], [28, 24], [28, 5], [26, 5], [26, 0], [43, 0], [43, 5], [41, 5], [41, 30], [38, 35], [33, 38], [10, 38], [5, 35], [2, 30], [2, 5], [0, 5]];

function drawLogo(ctx: CanvasRenderingContext2D, a: any) {
  const ox = a.right - 74, oy = a.top + 8;
  ctx.save();
  ctx.globalAlpha = 0.9;
  ctx.fillStyle = '#cc0000';
  ctx.beginPath();
  U_OUTLINE.forEach(([px, py], i) => (i ? ctx.lineTo(ox + px, oy + py) : ctx.moveTo(ox + px, oy + py)));
  ctx.closePath();
  ctx.fill();
  ctx.fillStyle = '#333';
  ctx.textAlign = 'center';
  ctx.textBaseline = 'middle';
  ctx.font = `11.5px ${SERIF}`;
  ctx.fillText('THE', a.right - 86, a.top + 41);
  ctx.font = `17.5px ${SERIF}`;
  ctx.fillText('UNIVERSITY', a.right - 63, a.top + 56);
  ctx.font = `11px ${SERIF}`;
  ctx.fillText('OF', a.right - 91, a.top + 71);
  ctx.font = `17.5px ${SERIF}`;
  ctx.fillText('UTAH', a.right - 57, a.top + 73);
  ctx.restore();
}

function decorPlugin(spec: any) {
  return {
    id: 'panelDecor',
    afterDatasetsDraw(chart: any) {
      if (spec.kind === 'violin') drawViolinBodies(chart, spec.stats);
    },
    afterDraw(chart: any) {
      const { ctx, chartArea: a } = chart;
      if (spec.kind === 'violin') drawViolinMarks(chart, spec.stats);
      if (spec.station) drawStationNote(chart);
      ctx.save();
      ctx.strokeStyle = '#000';
      ctx.lineWidth = 1.5;
      ctx.beginPath();
      ctx.moveTo(a.left, a.top);
      ctx.lineTo(a.right, a.top);
      ctx.lineTo(a.right, a.bottom);
      ctx.stroke();
      if (spec.kind === 'members') drawMemberLegend(ctx, a, spec.colors);
      else drawViolinLegend(ctx, a);
      drawLogo(ctx, a);
      ctx.fillStyle = '#000';
      ctx.font = `${PANEL_TITLE_PX}px ${SANS}`;
      ctx.textAlign = 'center';
      ctx.textBaseline = 'alphabetic';
      ctx.fillText(spec.title, (a.left + a.right) / 2, a.top - 7.5);
      ctx.restore();
    },
  };
}

function buildDatasets(spec: any) {
  if (spec.kind === 'members') {
    const [gm, em, gmean, emean] = spec.colors;
    // listed bottom-to-top, reversed below because Chart.js paints the first dataset last
    const stack = [
      ...spec.gefs.map((k: number[][]) => lineDataset(k, gm, 1.5)),
      ...spec.ens.map((k: number[][]) => lineDataset(k, em, 1.5)),
      lineDataset(spec.ensMean, '#000', 13),
      lineDataset(spec.ensMean, emean, 8.5),
      lineDataset(spec.gefsMean, '#000', 13),
      lineDataset(spec.gefsMean, gmean, 8.5),
    ];
    return stack.reverse();
  }
  if (spec.station) {
    return [{
      data: toPoints([[0, STATION_ELEV_FT], [VIOLIN_AXIS_END_H, STATION_ELEV_FT]]),
      borderColor: '#8b4513',
      backgroundColor: 'rgba(139,69,19,0.5)',
      borderWidth: 3,
      fill: 'origin',
      pointRadius: 0,
      tension: 0,
      clip: 0,
    }];
  }
  return [];
}

function buildConfig(spec: any) {
  const col = COLUMNS[spec.col];
  const isViolin = spec.kind === 'violin';
  const tickFont = { family: SANS, size: TICK_PX, lineHeight: 1.134 };
  const titleFont = { family: SANS, size: AXIS_TITLE_PX, lineHeight: 1.2 };
  const grid = { color: '#b0b0b0', lineWidth: 1.5, drawTicks: true, tickLength: 7, tickColor: '#000', tickWidth: 1.5, z: isViolin ? 1 : -1 };
  const border = { display: true, color: '#000', width: 1.5, z: 2 };
  const xAxisH = CANVAS_H - PLOT_BOTTOM;
  return {
    type: 'line',
    data: { datasets: buildDatasets(spec) },
    options: {
      responsive: false,
      maintainAspectRatio: false,
      animation: false,
      devicePixelRatio: 1,
      events: [],
      layout: { padding: { left: 0, top: PLOT_TOP, right: col.padRight, bottom: 0 } },
      plugins: { legend: { display: false }, tooltip: { enabled: false }, title: { display: false } },
      scales: {
        x: {
          type: 'linear',
          min: 0,
          max: isViolin ? VIOLIN_AXIS_END_H : FORECAST_END_H,
          afterFit: (s: any) => { s.height = xAxisH; },
          grid,
          border,
          ticks: {
            stepSize: 12,
            autoSkip: false,
            includeBounds: false,
            maxRotation: 0,
            minRotation: 0,
            padding: 3,
            color: '#000',
            font: tickFont,
            callback: (v: any) => {
              const h = Number(v);
              return h % 24 === 0 ? [HOUR_LABEL, DAY_LABELS[h / 24]] : '';
            },
          },
          title: { display: true, text: X_AXIS_TITLE, color: '#000', font: titleFont, padding: { top: 0, bottom: 6 } },
        },
        y: {
          type: 'linear',
          min: 0,
          max: spec.yMax,
          afterFit: (s: any) => { s.width = col.axisWidth; },
          afterBuildTicks: (s: any) => { s.ticks = spec.yTicks.map((v: number) => ({ value: v })); },
          grid,
          border,
          ticks: {
            autoSkip: false,
            padding: 6.5,
            color: '#000',
            font: tickFont,
            callback: (v: any) => Number(v).toFixed(spec.yDigits),
          },
          title: { display: true, text: spec.yLabel, color: '#000', font: titleFont, padding: { top: spec.yTitlePad, bottom: 0 } },
        },
      },
    },
    plugins: [decorPlugin(spec)],
  };
}

function Panel({ spec }: { spec: any }) {
  const ref = useRef<HTMLCanvasElement>(null);
  useEffect(() => {
    if (!ref.current) return;
    const chart = new Chart(ref.current, buildConfig(spec) as any);
    return () => chart.destroy();
  }, [spec]);
  const col = COLUMNS[spec.col];
  return (
    <canvas
      ref={ref}
      width={col.width}
      height={CANVAS_H}
      style={{ position: 'absolute', left: col.left, top: ROW_TOPS[spec.row], width: col.width, height: CANVAS_H }}
    />
  );
}

const headStyle = (top: number, size: number) => ({
  position: 'absolute' as const,
  left: 0,
  top,
  width: 1984,
  textAlign: 'center' as const,
  fontFamily: SANS,
  fontSize: size,
  lineHeight: 1.164,
  whiteSpace: 'nowrap' as const,
  color: '#000',
});

export default function App() {
  return (
    <div style={{ position: 'absolute', left: 0, top: 0, width: 1984, height: 1962, background: '#fff', overflow: 'hidden' }}>
      <div style={headStyle(7.3, PANEL_TITLE_PX)}>{SUPTITLE_LINES[0]}</div>
      <div style={headStyle(39.3, PANEL_TITLE_PX)}>{SUPTITLE_LINES[1]}</div>
      <div style={headStyle(70, LEGEND_PX)}>{CREDIT_LINE}</div>
      {PANELS.map((p, i) => (
        <Panel key={i} spec={p} />
      ))}
    </div>
  );
}
